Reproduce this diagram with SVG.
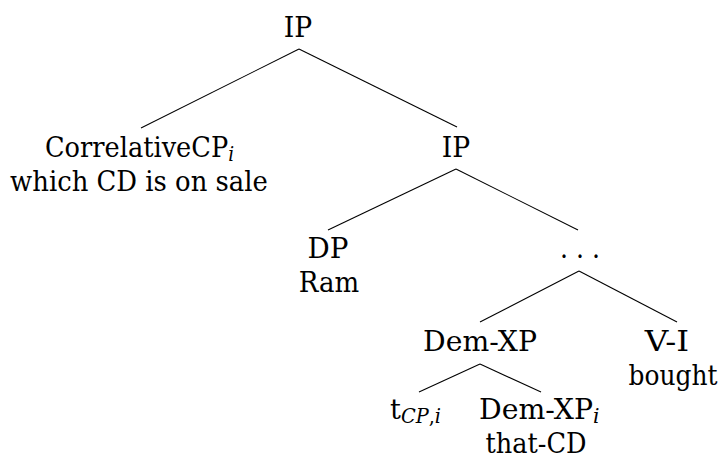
<svg xmlns="http://www.w3.org/2000/svg" width="724" height="459" viewBox="0 0 724 459">
<style>
text{font-family:"DejaVu Serif","Liberation Serif","Times New Roman",serif;font-size:28px;fill:#000;text-anchor:middle}
.s{text-anchor:start}
.sub{font-size:20px;font-style:italic}
.rm{font-style:normal}
line{stroke:#000;stroke-width:1.1}
</style>
<rect width="724" height="459" fill="#fff"/>
<g id="connectors">
<line x1="299" y1="49" x2="141" y2="128"/>
<line x1="299" y1="49" x2="457" y2="127"/>
<line x1="456" y1="169" x2="328" y2="230"/>
<line x1="456" y1="169" x2="578" y2="230"/>
<line x1="579" y1="271" x2="480" y2="322"/>
<line x1="579" y1="271" x2="677" y2="322"/>
<line x1="480" y1="364" x2="419" y2="392"/>
<line x1="480" y1="364" x2="541" y2="392"/>
</g>
<g id="ip-top"><text x="298" y="37" textLength="28.4" lengthAdjust="spacingAndGlyphs">IP</text></g>
<g id="correlative"><text class="s" x="45" y="157" textLength="189" lengthAdjust="spacingAndGlyphs">CorrelativeCP<tspan class="sub" dy="4">i</tspan></text><text x="139" y="191" textLength="257.8" lengthAdjust="spacingAndGlyphs">which CD is on sale</text></g>
<g id="ip-mid"><text x="456" y="157" textLength="28.4" lengthAdjust="spacingAndGlyphs">IP</text></g>
<g id="dp"><text x="328" y="258" textLength="40.9" lengthAdjust="spacingAndGlyphs">DP</text><text x="329" y="292" textLength="60.4" lengthAdjust="spacingAndGlyphs">Ram</text></g>
<g id="dots"><text x="580" y="258" textLength="40" lengthAdjust="spacingAndGlyphs">. . .</text></g>
<g id="demxp"><text x="480" y="351" textLength="113.8" lengthAdjust="spacingAndGlyphs">Dem-XP</text></g>
<g id="vi"><text x="667" y="351" textLength="44.4" lengthAdjust="spacingAndGlyphs">V-I</text><text x="673" y="385" textLength="88.9" lengthAdjust="spacingAndGlyphs">bought</text></g>
<g id="trace"><text class="s" x="390" y="419" textLength="51" lengthAdjust="spacingAndGlyphs">t<tspan class="sub" dy="4">CP<tspan class="rm">,</tspan>i</tspan></text></g>
<g id="demxp-i"><text class="s" x="479" y="419" textLength="120.5" lengthAdjust="spacingAndGlyphs">Dem-XP<tspan class="sub" dy="4">i</tspan></text><text x="536" y="453" textLength="101" lengthAdjust="spacingAndGlyphs">that-CD</text></g>
</svg>
